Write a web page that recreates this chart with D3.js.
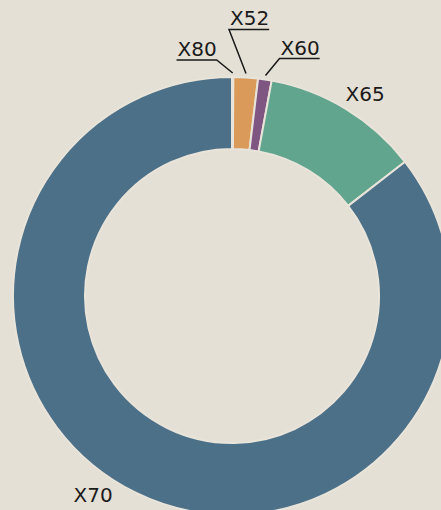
<!DOCTYPE html>
<html>
<head>
<meta charset="utf-8">
<script src="https://cdn.jsdelivr.net/npm/d3@7"></script>
<style>
  html, body { margin: 0; padding: 0; background: #e5e0d5; overflow: hidden; }
  svg { display: block; }
</style>
</head>
<body>
<div id="chart"></div>
<script>
// donut share chart, slices clockwise from 12 o'clock
const categories = ["X80", "X52", "X60", "X65", "X70"];
const values = [0.1, 1.8, 1.0, 11.6, 85.5];
const colors = ["#4d7089", "#d99a5a", "#7f5582", "#62a58e", "#4d7089"];

// small slices get a callout (elbow offset from arc edge, text side)
const callouts = {
  X80: { dx: -16, dy: -13, side: "left" },
  X52: { dx: -17, dy: -44, side: "right" },
  X60: { dx: 14, dy: -17, side: "right" }
};
// angle nudge (degrees) for plain labels
const labelNudge = { X65: -2 };

const W = 441, H = 510;
const cx = 232, cy = 296, rOuter = 219, rInner = 147, rLabel = 232;

const svg = d3.select("#chart").append("svg").attr("width", W).attr("height", H);
svg.append("rect").attr("width", W).attr("height", H).attr("fill", "#e5e0d5");

const g = svg.append("g").attr("transform", `translate(${cx},${cy})`);

const pie = d3.pie().sort(null).value((d) => d.v)(categories.map((c, i) => ({ c, v: values[i], col: colors[i] })));
const arc = d3.arc().innerRadius(rInner).outerRadius(rOuter);

g.selectAll("path.slice").data(pie).join("path")
  .attr("class", "slice")
  .attr("d", arc)
  .attr("fill", (d) => d.data.col)
  .attr("stroke", "#e8e4da").attr("stroke-width", 2).attr("stroke-linejoin", "round");

const font = { family: "DejaVu Sans, sans-serif", size: 20 };
const mid = (d) => (d.startAngle + d.endAngle) / 2;
const polar = (a, r) => [Math.sin(a) * r, -Math.cos(a) * r];

// plain labels
pie.filter((d) => !callouts[d.data.c]).forEach((d) => {
  const a = mid(d) + ((labelNudge[d.data.c] || 0) * Math.PI) / 180;
  let [x, y] = polar(a, rLabel);
  // keep label inside the frame, sliding along the label circle
  const yMax = H - cy - 15;
  if (y > yMax) { y = yMax; x = Math.sign(x) * Math.sqrt(rLabel * rLabel - y * y); }
  g.append("text")
    .attr("x", x).attr("y", y).attr("dy", "0.35em")
    .attr("text-anchor", x < 0 ? "end" : "start")
    .attr("font-family", font.family).attr("font-size", font.size).attr("fill", "#1a1a1a")
    .text(d.data.c);
});

// callout labels: leader line + underlined text
pie.filter((d) => callouts[d.data.c]).forEach((d) => {
  const co = callouts[d.data.c];
  const [ax, ay] = polar(mid(d), rOuter + 4);
  const ex = ax + co.dx, ey = ay + co.dy;
  const t = g.append("text")
    .attr("x", co.side === "left" ? ex : ex + 1).attr("y", ey - 4)
    .attr("text-anchor", co.side === "left" ? "end" : "start")
    .attr("font-family", font.family).attr("font-size", font.size).attr("fill", "#1a1a1a")
    .text(d.data.c);
  const w = t.node().getComputedTextLength() + 1;
  const ux = co.side === "left" ? ex - w : ex + w;
  g.append("path")
    .attr("d", d3.line()([[ax, ay], [ex, ey], [ux, ey]]))
    .attr("fill", "none").attr("stroke", "#1a1a1a").attr("stroke-width", 1.5);
});
</script>
</body>
</html>
